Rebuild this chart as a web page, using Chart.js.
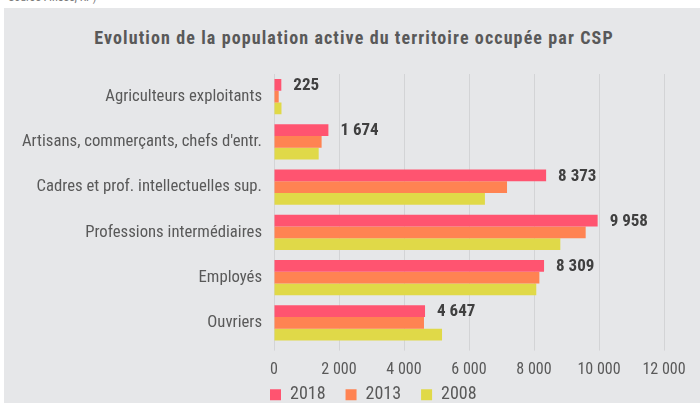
<!DOCTYPE html>
<html>
<head>
<meta charset="utf-8">
<script src="https://cdn.jsdelivr.net/npm/chart.js@4"></script>
<style>
  html, body { margin: 0; padding: 0; background: #ffffff; overflow: hidden; }
  body { width: 700px; height: 403px; position: relative; font-family: "Roboto Condensed", sans-serif; }
  #source { position: absolute; left: 8px; top: -10px; font-size: 12px; color: #7a7a7a; }
  #panel { position: absolute; left: 4px; top: 8px; right: 0; bottom: 0; background: #e6e7e9; }
  #title { position: absolute; left: 0; width: 708px; top: 27px; text-align: center; font-weight: bold; font-size: 18px; letter-spacing: 1.1px; color: #595959; }
  #wrap { position: absolute; left: 0; top: 0; width: 700px; height: 403px; }
</style>
</head>
<body>
<div id="source">Source : Insee, RP)</div>
<div id="panel"></div>
<div id="title">Evolution de la population active du territoire occupée par CSP</div>
<div id="wrap"><canvas id="chartCsp"></canvas></div>
<script>
// categories and series
const categories = [
  'Agriculteurs exploitants',
  "Artisans, commerçants, chefs d'entr.",
  'Cadres et prof. intellectuelles sup.',
  'Professions intermédiaires',
  'Employés',
  'Ouvriers'
];
const years = ['2018', '2013', '2008'];
const values2018 = [225, 1674, 8373, 9958, 8309, 4647];
const values2013 = [145, 1465, 7170, 9590, 8165, 4615];
const values2008 = [230, 1375, 6490, 8810, 8070, 5170];
const xTicks = [0, 2000, 4000, 6000, 8000, 10000, 12000];

const colors = ['#ff5470', '#ff8352', '#e0d948'];

function fmt(v) {
  return String(v).replace(/\B(?=(\d{3})+(?!\d))/g, ' ');
}

// value labels next to the 2018 bars
const valueLabels = {
  id: 'valueLabels',
  afterDatasetsDraw(chart) {
    const ctx = chart.ctx;
    const meta = chart.getDatasetMeta(0);
    ctx.save();
    ctx.font = 'bold 17px "Roboto Condensed", sans-serif';
    ctx.fillStyle = '#404040';
    ctx.textAlign = 'left';
    ctx.textBaseline = 'middle';
    meta.data.forEach((bar, i) => {
      ctx.fillText(fmt(values2018[i]), bar.x + 12, bar.y + 1);
    });
    ctx.restore();
  }
};

// legend sits a bit left of the plot area and close under the axis, as in the original
const legendShift = {
  id: 'legendShift',
  afterLayout(chart) {
    const lg = chart.legend;
    if (!lg) return;
    lg.left -= 24;
    lg.right -= 24;
    lg.top -= 13.8;
    lg.bottom -= 13.8;
  }
};

Chart.defaults.font.family = '"Roboto Condensed", sans-serif';
Chart.defaults.color = '#595959';

const ctx = document.getElementById('chartCsp').getContext('2d');
new Chart(ctx, {
  type: 'bar',
  data: {
    labels: categories,
    datasets: [
      { label: years[0], data: values2018, backgroundColor: colors[0] },
      { label: years[1], data: values2013, backgroundColor: colors[1] },
      { label: years[2], data: values2008, backgroundColor: colors[2] }
    ]
  },
  options: {
    indexAxis: 'y',
    responsive: true,
    maintainAspectRatio: false,
    animation: false,
    layout: { padding: { left: 8, right: 36, top: 74, bottom: -24.6 } },
    datasets: {
      bar: { categoryPercentage: 0.78, barPercentage: 1.0, borderWidth: 0 }
    },
    plugins: {
      title: { display: false },
      tooltip: { enabled: false },
      legend: {
        position: 'bottom',
        align: 'start',
        fullSize: false,
        labels: {
          boxWidth: 11,
          boxHeight: 11,
          padding: 20,
          color: '#595959',
          font: { size: 18 }
        }
      }
    },
    scales: {
      x: {
        min: 0,
        max: 12000,
        afterBuildTicks(scale) {
          scale.ticks = xTicks.map(v => ({ value: v }));
        },
        afterFit(scale) { scale.height = 34; },
        ticks: {
          color: '#595959',
          font: { size: 16 },
          padding: 10,
          callback: v => fmt(v)
        },
        grid: { color: '#d3d4d6', lineWidth: 1, tickLength: 5 },
        border: { display: false }
      },
      y: {
        afterFit(scale) { scale.width = 266; },
        ticks: {
          color: '#595959',
          font: { size: 16.7 },
          padding: 12
        },
        grid: { display: false, drawTicks: false },
        border: { display: false }
      }
    }
  },
  plugins: [valueLabels, legendShift]
});
</script>
</body>
</html>
